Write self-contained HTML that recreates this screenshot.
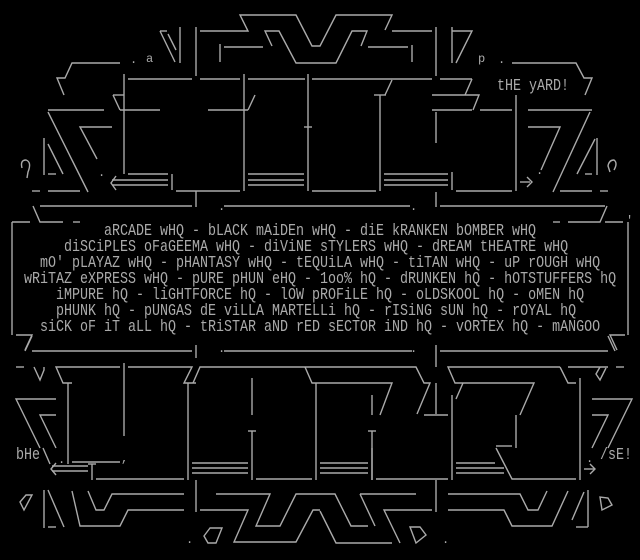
<!DOCTYPE html>
<html><head><meta charset="utf-8"><style>
html,body{margin:0;padding:0;background:#000;}
body{width:640px;height:560px;overflow:hidden;position:relative;}
svg{position:absolute;left:0;top:0;}
.t{position:absolute;white-space:pre;color:#aaa;font-family:"Liberation Mono",monospace;font-size:17px;line-height:16px;transform-origin:0 0;transform:scaleX(0.7843);}
</style></head><body>
<svg width="640" height="560" viewBox="0 0 640 560" fill="none" stroke="#aaa" stroke-width="1.4">
<polyline points="200,31 248,31 240,15 296,15 312,46 320,46 336,15 392,15 385,30"/>
<polyline points="272,46 265,31 279,31 296,63 336,63 352,31 367,31 361,46"/>
<line x1="392" y1="31" x2="432" y2="31"/>
<line x1="224" y1="47" x2="263" y2="47"/>
<line x1="368" y1="47" x2="408" y2="47"/>
<line x1="220" y1="44" x2="220" y2="62"/><line x1="412" y1="45" x2="412" y2="62"/>
<line x1="180" y1="27" x2="180" y2="63"/><line x1="196" y1="27" x2="196" y2="76"/>
<line x1="436" y1="27" x2="436" y2="76"/><line x1="452" y1="27" x2="452" y2="63"/>
<polyline points="160,31 167,31"/><line x1="160" y1="31" x2="175" y2="62"/><line x1="168" y1="34" x2="176" y2="50"/>
<polyline points="452,31 472,31 456,63"/>
<polyline points="120,63 72,63 65,78 57,78 64,95"/>
<polyline points="512,63 576,63 584,78 592,78 585,95"/>
<line x1="128" y1="79" x2="192" y2="79"/><line x1="200" y1="79" x2="240" y2="79"/>
<line x1="248" y1="79" x2="305" y2="79"/><line x1="312" y1="79" x2="432" y2="79"/>
<line x1="440" y1="79" x2="472" y2="79"/><line x1="472" y1="79" x2="465" y2="95"/>
<line x1="392" y1="80" x2="385" y2="95"/>
<polyline points="113,95 124,95"/><line x1="113" y1="95" x2="120" y2="110"/>
<line x1="255" y1="95" x2="248" y2="110"/>
<polyline points="432,95 472,95 479,95 473,110"/>
<line x1="48" y1="110" x2="104" y2="110"/><line x1="120" y1="110" x2="160" y2="110"/>
<line x1="208" y1="110" x2="248" y2="110"/><line x1="432" y1="110" x2="472" y2="110"/>
<line x1="480" y1="110" x2="512" y2="110"/><line x1="528" y1="110" x2="592" y2="110"/>
<line x1="124" y1="74" x2="124" y2="174"/><line x1="128" y1="174" x2="168" y2="174"/>
<line x1="244" y1="74" x2="244" y2="191"/><line x1="308" y1="74" x2="308" y2="191"/>
<line x1="304" y1="127" x2="312" y2="127"/>
<line x1="380" y1="95" x2="380" y2="191"/><line x1="374" y1="95" x2="386" y2="95"/>
<line x1="436" y1="112" x2="436" y2="143"/><line x1="516" y1="95" x2="516" y2="191"/>
<line x1="48" y1="112" x2="88" y2="192"/>
<polyline points="112,127 80,127 97,159"/>
<line x1="44" y1="138" x2="44" y2="175"/><line x1="48" y1="144" x2="63" y2="174"/><line x1="48" y1="174" x2="56" y2="174"/>
<path d="M22,168 Q20,160 26,160 Q32,162 28,172 L27,178"/>
<polyline points="116,176 111,183 116,190"/>
<line x1="112" y1="180" x2="168" y2="180"/><line x1="112" y1="185" x2="168" y2="185"/>
<line x1="172" y1="174" x2="172" y2="190"/>
<line x1="176" y1="191" x2="240" y2="191"/><line x1="196" y1="191" x2="196" y2="207"/>
<line x1="248" y1="174" x2="304" y2="174"/><line x1="248" y1="180" x2="304" y2="180"/><line x1="248" y1="185" x2="304" y2="185"/>
<line x1="312" y1="191" x2="376" y2="191"/>
<line x1="384" y1="174" x2="448" y2="174"/><line x1="384" y1="180" x2="448" y2="180"/><line x1="384" y1="185" x2="448" y2="185"/>
<line x1="452" y1="172" x2="452" y2="190"/><line x1="456" y1="191" x2="512" y2="191"/>
<polyline points="520,182 530,182"/><polyline points="527,177 532,182 527,187"/>
<polyline points="528,127 560,127 541,170"/>
<line x1="590" y1="112" x2="553" y2="192"/>
<line x1="595" y1="139" x2="577" y2="174"/><line x1="597" y1="138" x2="597" y2="175"/><line x1="585" y1="174" x2="592" y2="174"/>
<path d="M610,172 L608,166 Q609,160 614,160 Q618,163 614,170"/>
<line x1="32" y1="191" x2="40" y2="191"/><line x1="48" y1="191" x2="80" y2="191"/>
<line x1="560" y1="191" x2="592" y2="191"/><line x1="600" y1="191" x2="608" y2="191"/>
<line x1="40" y1="206" x2="192" y2="206"/><line x1="224" y1="206" x2="410" y2="206"/>
<line x1="436" y1="192" x2="436" y2="207"/><line x1="440" y1="206" x2="605" y2="206"/>
<polyline points="33,206 40,222 63,222"/><line x1="12" y1="222" x2="30" y2="222"/><line x1="73" y1="222" x2="80" y2="222"/>
<polyline points="607,206 600,222 568,222"/><line x1="553" y1="222" x2="560" y2="222"/><line x1="605" y1="222" x2="623" y2="222"/>
<line x1="12" y1="222" x2="12" y2="335"/><line x1="628" y1="222" x2="628" y2="335"/>
<polyline points="16,335 32,335 25,350"/><polyline points="625,335 610,335 617,350"/>
<line x1="25" y1="351" x2="32" y2="336"/>
<line x1="32" y1="351" x2="192" y2="351"/><line x1="196" y1="345" x2="196" y2="358"/>
<line x1="224" y1="351" x2="412" y2="351"/><line x1="436" y1="345" x2="436" y2="367"/>
<line x1="440" y1="351" x2="608" y2="351"/><line x1="608" y1="336" x2="615" y2="351"/>
<line x1="16" y1="367" x2="24" y2="367"/><path d="M34,367 L40,380 L44,370 L44,367"/>
<polyline points="120,367 56,367 63,383 72,383"/><line x1="68" y1="383" x2="68" y2="464"/>
<line x1="124" y1="363" x2="124" y2="436"/>
<polyline points="128,367 192,367 184,383 196,383"/><line x1="188" y1="383" x2="188" y2="480"/>
<polyline points="320,367 200,367 193,383"/>
<line x1="252" y1="378" x2="252" y2="415"/><line x1="248" y1="431" x2="256" y2="431"/><line x1="252" y1="431" x2="252" y2="480"/>
<polyline points="305,367 312,383 320,383"/><line x1="316" y1="383" x2="316" y2="480"/>
<polyline points="56,399 16,399 40,448"/><polyline points="56,415 40,415 56,448"/>
<polyline points="320,367 416,367 424,383 430,383 417,414"/>
<polyline points="424,415 448,415"/><line x1="436" y1="383" x2="436" y2="414"/>
<polyline points="560,367 448,367 455,383 534,383 520,415"/><line x1="516" y1="415" x2="516" y2="448"/><line x1="496" y1="446" x2="512" y2="446"/>
<polyline points="560,367 568,383 576,383"/><line x1="580" y1="378" x2="580" y2="480"/>
<line x1="568" y1="367" x2="608" y2="367"/><path d="M600,367 L596,374 L600,380 L606,368"/><line x1="616" y1="367" x2="624" y2="367"/>
<line x1="463" y1="383" x2="456" y2="399"/><line x1="452" y1="395" x2="452" y2="480"/>
<polyline points="320,383 392,383 380,415"/><line x1="372" y1="395" x2="372" y2="415"/>
<line x1="368" y1="431" x2="376" y2="431"/><line x1="372" y1="431" x2="372" y2="480"/>
<polyline points="592,399 632,399 608,448"/><polyline points="592,415 608,415 592,448"/>
<line x1="43" y1="448" x2="50" y2="464"/>
<line x1="72" y1="462" x2="120" y2="462"/>
<polyline points="56,463 51,469 56,475"/><line x1="52" y1="466" x2="88" y2="466"/><line x1="52" y1="471" x2="88" y2="471"/>
<line x1="92" y1="464" x2="92" y2="480"/><line x1="88" y1="464" x2="96" y2="464"/><line x1="96" y1="479" x2="184" y2="479"/>
<line x1="192" y1="463" x2="248" y2="463"/><line x1="192" y1="468" x2="248" y2="468"/><line x1="192" y1="473" x2="248" y2="473"/>
<line x1="256" y1="479" x2="312" y2="479"/>
<line x1="320" y1="463" x2="368" y2="463"/><line x1="320" y1="468" x2="368" y2="468"/><line x1="320" y1="473" x2="368" y2="473"/>
<line x1="372" y1="448" x2="372" y2="480"/><line x1="376" y1="479" x2="448" y2="479"/>
<line x1="456" y1="463" x2="495" y2="463"/><line x1="456" y1="468" x2="504" y2="468"/><line x1="456" y1="473" x2="504" y2="473"/>
<polyline points="496,448 512,479 576,479"/>
<line x1="584" y1="469" x2="594" y2="469"/><polyline points="590,464 595,469 590,474"/>
<path d="M26,495 L20,502 L24,510 L32,495 Z"/>
<line x1="44" y1="490" x2="44" y2="528"/><line x1="48" y1="527" x2="56" y2="527"/><line x1="48" y1="490" x2="64" y2="527"/>
<polyline points="72,491 80,526 120,526 128,510 184,510"/>
<polyline points="88,491 96,510 104,510 112,494 184,494"/>
<line x1="196" y1="480" x2="196" y2="512"/>
<polyline points="200,510 248,510 234,542 296,542 313,510 320,510"/>
<polyline points="216,494 270,494 256,526 280,526 296,494 335,494 351,526 368,526"/>
<path d="M210,528 L204,536 L208,543 L216,543 L222,528 Z"/>
<polyline points="320,511 336,543 392,543"/><polyline points="360,494 375,526"/><line x1="360" y1="494" x2="416" y2="494"/>
<polyline points="432,510 384,510 400,543"/><line x1="436" y1="480" x2="436" y2="512"/>
<path d="M410,527 L416,543 L426,535 L420,527 Z"/>
<polyline points="448,494 520,494 528,510 538,510 547,491"/>
<polyline points="448,510 504,510 512,526 552,526 568,491"/>
<line x1="588" y1="490" x2="588" y2="527"/><line x1="576" y1="527" x2="588" y2="527"/><line x1="584" y1="492" x2="572" y2="520"/>
<path d="M602,510 L600,497 L608,498 L612,505 Z"/>
</svg>
<svg width="640" height="560" viewBox="0 0 640 560" fill="#aaa" font-family="Liberation Mono, monospace" font-size="12">
<text x="130" y="63">.</text><text x="146" y="62">a</text><text x="478" y="62">p</text><text x="498" y="63">.</text>
<text x="218" y="210">.</text><text x="410" y="210">.</text><text x="98" y="176">.</text><text x="536" y="174">.</text>
<text x="218" y="352">.</text><text x="410" y="352">.</text><text x="58" y="463">.</text><text x="121" y="462">,</text>
<text x="186" y="543">.</text><text x="442" y="543">.</text><text x="586" y="462">.</text><text x="626" y="224">'</text>
</svg>
<div class="t" style="left:497px;top:79px;">tHE yARD!</div>
<div class="t" style="left:16px;top:448px;">bHe</div>
<div class="t" style="left:600px;top:448px;">/sE!</div>
<div class="t" style="left:104px;top:224px;">aRCADE wHQ - bLACK mAiDEn wHQ - diE kRANKEN bOMBER wHQ</div>
<div class="t" style="left:64px;top:240px;">diSCiPLES oFaGEEMA wHQ - diViNE sTYLERS wHQ - dREAM tHEATRE wHQ</div>
<div class="t" style="left:40px;top:256px;">mO' pLAYAZ wHQ - pHANTASY wHQ - tEQUiLA wHQ - tiTAN wHQ - uP rOUGH wHQ</div>
<div class="t" style="left:24px;top:272px;">wRiTAZ eXPRESS wHQ - pURE pHUN eHQ - 1oo% hQ - dRUNKEN hQ - hOTSTUFFERS hQ</div>
<div class="t" style="left:56px;top:288px;">iMPURE hQ - liGHTFORCE hQ - lOW pROFiLE hQ - oLDSKOOL hQ - oMEN hQ</div>
<div class="t" style="left:56px;top:304px;">pHUNK hQ - pUNGAS dE viLLA MARTELLi hQ - rISiNG sUN hQ - rOYAL hQ</div>
<div class="t" style="left:40px;top:320px;">siCK oF iT aLL hQ - tRiSTAR aND rED sECTOR iND hQ - vORTEX hQ - mANGOO</div>
</body></html>
